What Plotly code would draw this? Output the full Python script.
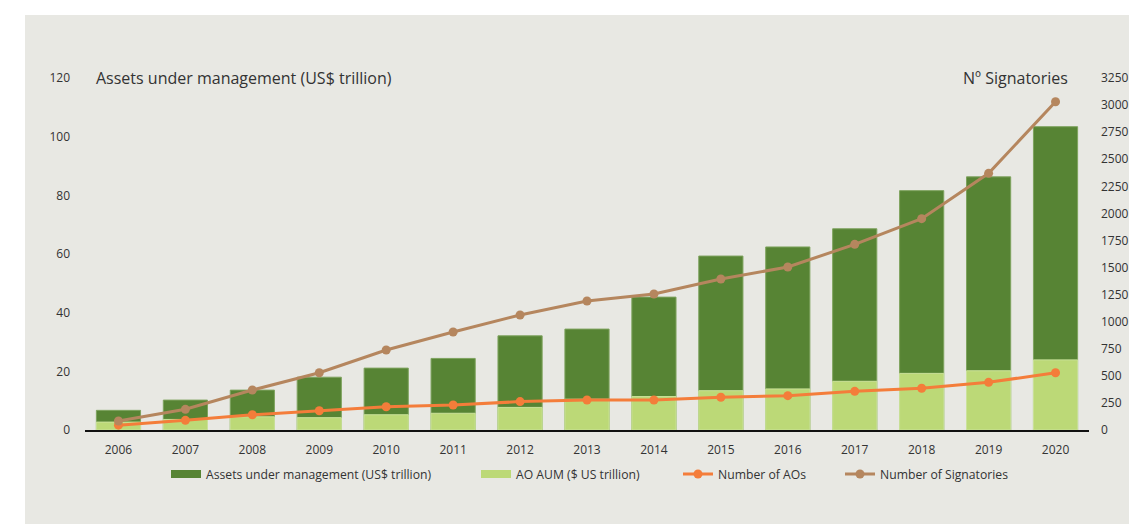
import plotly.graph_objects as go

years = ["2006", "2007", "2008", "2009", "2010", "2011", "2012", "2013",
         "2014", "2015", "2016", "2017", "2018", "2019", "2020"]
aum_total = [6.7, 10.2, 13.6, 18.0, 21.1, 24.4, 32.1, 34.4,
             45.3, 59.3, 62.4, 68.6, 81.6, 86.3, 103.4]
ao_aum = [2.7, 3.6, 4.5, 4.2, 5.2, 5.7, 7.7, 10.5,
          11.4, 13.4, 14.0, 16.6, 19.3, 20.2, 23.9]
num_aos = [45, 89, 141, 178, 215, 231, 262, 277,
           277, 302, 317, 357, 385, 440, 529]
num_signatories = [83, 191, 369, 529, 739, 905, 1062, 1191,
                   1256, 1394, 1505, 1714, 1951, 2370, 3031]

left_ticks = [0, 20, 40, 60, 80, 100, 120]
right_ticks = list(range(0, 3251, 250))

DARK = "#578434"
LIGHT = "#bcd977"
ORANGE = "#f47d3a"
BROWN = "#b5865e"
BG = "#e8e8e3"
TXT = "#333333"
FONT = "Open Sans"

fig = go.Figure()

fig.add_trace(go.Bar(x=years, y=aum_total, marker=dict(color=DARK, line=dict(color="#7ea35e", width=1)),
                     width=0.66, showlegend=False, name="Assets under management (US$ trillion)"))
fig.add_trace(go.Bar(x=years, y=ao_aum, marker=dict(color=LIGHT, line=dict(color="#cbe29a", width=1)),
                     width=0.66, showlegend=False, name="AO AUM ($ US trillion)"))
fig.add_trace(go.Scatter(x=years, y=num_aos, yaxis="y2", mode="lines+markers",
                         line=dict(color=ORANGE, width=3), marker=dict(color=ORANGE, size=9),
                         showlegend=False, name="Number of AOs"))
fig.add_trace(go.Scatter(x=years, y=num_signatories, yaxis="y2", mode="lines+markers",
                         line=dict(color=BROWN, width=3), marker=dict(color=BROWN, size=9),
                         showlegend=False, name="Number of Signatories"))

# legend entries
fig.add_trace(go.Scatter(x=[None], y=[None], mode="lines", line=dict(color=DARK, width=8),
                         name="Assets under management (US$ trillion)", legend="legend"))
fig.add_trace(go.Scatter(x=[None], y=[None], mode="lines", line=dict(color=LIGHT, width=8),
                         name="AO AUM ($ US trillion)", legend="legend2"))
fig.add_trace(go.Scatter(x=[None], y=[None], mode="lines+markers", line=dict(color=ORANGE, width=3),
                         marker=dict(color=ORANGE, size=9), name="Number of AOs", legend="legend3"))
fig.add_trace(go.Scatter(x=[None], y=[None], mode="lines+markers", line=dict(color=BROWN, width=3),
                         marker=dict(color=BROWN, size=9), name="Number of Signatories", legend="legend4"))

def leg(xpx):
    return dict(orientation="h", x=(xpx - 85) / 1004, xanchor="left", y=-0.125, yanchor="middle",
                font=dict(size=12.2, color=TXT), bgcolor="rgba(0,0,0,0)", itemwidth=30)

fig.update_layout(
    width=1129, height=524,
    margin=dict(l=85, r=40, t=78, b=94, autoexpand=False),
    paper_bgcolor=BG,
    plot_bgcolor="rgba(0,0,0,0)",
    barmode="overlay",
    font=dict(family=FONT, color=TXT, size=12),
    xaxis=dict(type="category", range=[-0.5, 14.5], showgrid=False, showline=True,
               linecolor="#111111", linewidth=1.5, ticks="", tickfont=dict(size=12),
               ticklabelstandoff=8, automargin=False),
    yaxis=dict(range=[0, 120], tickvals=left_ticks, showgrid=False, zeroline=False,
               showline=False, ticks="", tickfont=dict(size=12), ticklabelstandoff=14,
               automargin=False),
    yaxis2=dict(range=[0, 3250], tickvals=right_ticks, overlaying="y", side="right",
                showgrid=False, zeroline=False, showline=False, ticks="",
                tickfont=dict(size=12), ticklabelstandoff=11, automargin=False),
    legend=leg(166),
    legend2=leg(476),
    legend3=leg(678),
    legend4=leg(840),
    shapes=[
        # white strips outside the grey panel (top and left)
        dict(type="rect", xref="paper", yref="paper", x0=-0.2, x1=1.2,
             y0=(430 - 15) / 352, y1=1.4, fillcolor="white", line=dict(width=0), layer="below"),
        dict(type="rect", xref="paper", yref="paper", x0=-0.2, x1=(25 - 85) / 1004,
             y0=-0.5, y1=1.4, fillcolor="white", line=dict(width=0), layer="below"),
    ],
    annotations=[
        dict(text="Assets under management (US$ trillion)", xref="paper", yref="paper",
             x=0.009, y=1.0, xanchor="left", yanchor="middle", showarrow=False,
             font=dict(size=16, color=TXT)),
        dict(text="Nº Signatories", xref="paper", yref="paper",
             x=(1070 - 85) / 1004, y=1.0, xanchor="right", yanchor="middle", showarrow=False,
             font=dict(size=16, color=TXT)),
    ],
)

fig.write_html("out.html", config={"displayModeBar": False},
               post_script="document.body.style.margin='0';document.body.style.overflow='hidden';"
                           "document.documentElement.style.overflow='hidden';")
